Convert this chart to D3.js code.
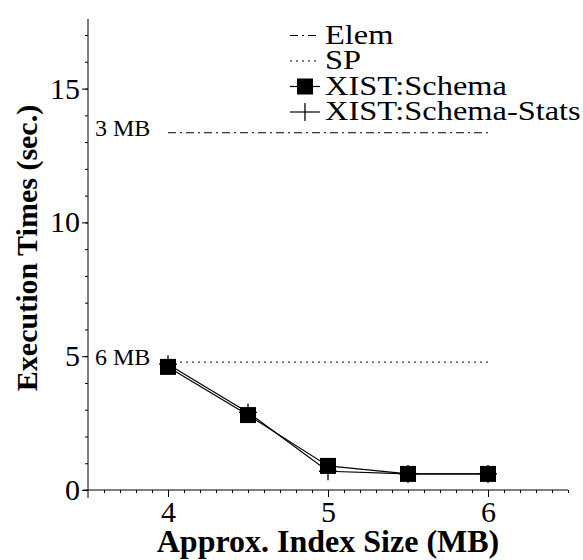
<!DOCTYPE html>
<html>
<head>
<meta charset="utf-8">
<script src="https://cdn.jsdelivr.net/npm/d3@7"></script>
<style>
  body { margin: 0; background: #fff; }
  svg { display: block; }
  text { font-family: "Liberation Serif", "Times New Roman", serif; fill: #000; }
</style>
</head>
<body>
<svg width="583" height="560"></svg>
<script>
// index size (MB) on the x axis
var sizes = [4, 4.5, 5, 5.5, 6];
// execution times (sec.)
var schemaTimes = [4.6, 2.8, 0.9, 0.6, 0.6];
var statsTimes = [4.7, 2.9, 0.7, 0.6, 0.6];

// flat reference lines
var refNames = ["Elem", "SP"];
var refLabels = ["3 MB", "6 MB"];
var refValues = [13.35, 4.78];

var xTicks = [4, 5, 6];
var yTicks = [0, 5, 10, 15];
var legendNames = ["Elem", "SP", "XIST:Schema", "XIST:Schema-Stats"];

var svg = d3.select("svg");

var x = d3.scaleLinear().domain([3.5, 6.5]).range([88, 568]),
    y = d3.scaleLinear().domain([0, 17.6]).range([490, 19]);

var dashes = { "Elem": "8,4,2,4", "SP": "2,4" };

// axes: minor ticks first, without labels
var xMinor = d3.range(36, 66).map(function(d) { return d / 10; }),
    yMinor = d3.range(1, 18);

function bare(g) {
    g.select(".domain").remove();
    g.selectAll("text").remove();
}

svg.append("g")
    .attr("transform", "translate(0," + y(0) + ")")
    .call(d3.axisBottom(x).tickValues(xMinor).tickSize(3))
    .call(bare);

svg.append("g")
    .attr("transform", "translate(0," + y(0) + ")")
    .call(d3.axisBottom(x).tickValues(xTicks).tickSize(7).tickPadding(4).tickFormat(d3.format("d")))
    .call(function(g) {
        g.select(".domain").remove();
        g.selectAll("text").style("font-size", "30px").attr("font-family", null);
    });

svg.append("g")
    .attr("transform", "translate(" + x(3.5) + ",0)")
    .call(d3.axisLeft(y).tickValues(yMinor).tickSize(3))
    .call(bare);

svg.append("g")
    .attr("transform", "translate(" + x(3.5) + ",0)")
    .call(d3.axisLeft(y).tickValues(yTicks).tickSize(6).tickPadding(2).tickFormat(d3.format("d")))
    .call(function(g) {
        g.select(".domain").remove();
        g.selectAll("text").style("font-size", "30px").attr("font-family", null);
    });

// axis lines, a bit past the corner like the original
svg.append("line")
    .attr("x1", x(3.5) - 5).attr("x2", x(6.5))
    .attr("y1", y(0)).attr("y2", y(0))
    .attr("stroke", "#000");
svg.append("line")
    .attr("x1", x(3.5)).attr("x2", x(3.5))
    .attr("y1", y(0) + 8).attr("y2", y(17.6))
    .attr("stroke", "#000");

// axis titles
svg.append("text")
    .attr("x", (x(3.5) + x(6.5)) / 2)
    .attr("y", 552)
    .attr("text-anchor", "middle")
    .style("font-size", "32px")
    .style("font-weight", "bold")
    .text("Approx. Index Size (MB)");

svg.append("text")
    .attr("transform", "translate(37," + 248 + ") rotate(-90)")
    .attr("text-anchor", "middle")
    .style("font-size", "30px")
    .style("font-weight", "bold")
    .text("Execution Times (sec.)");

// reference lines
refValues.forEach(function(v, i) {
    svg.append("line")
        .attr("x1", x(4)).attr("x2", x(6))
        .attr("y1", y(v)).attr("y2", y(v))
        .attr("stroke", "#000")
        .attr("stroke-width", 1)
        .attr("stroke-dasharray", dashes[refNames[i]]);
    svg.append("text")
        .attr("x", 95)
        .attr("y", y(v) + 3)
        .style("font-size", "24px")
        .text(refLabels[i]);
});

// data lines
var line = d3.line()
    .x(function(d) { return x(d[0]); })
    .y(function(d) { return y(d[1]); });

[statsTimes, schemaTimes].forEach(function(vals) {
    svg.append("path")
        .datum(d3.zip(sizes, vals))
        .attr("fill", "none")
        .attr("stroke", "#000")
        .attr("stroke-width", 1.2)
        .attr("d", line);
});

svg.append("g")
    .selectAll("path")
    .data(d3.zip(sizes, statsTimes))
    .enter()
        .append("path")
        .attr("transform", function(d) { return "translate(" + x(d[0]) + "," + y(d[1]) + ")"; })
        .attr("d", "M-9,0H9M0,-9V9")
        .attr("stroke", "#000")
        .attr("stroke-width", 1.3);

svg.append("g")
    .selectAll("rect")
    .data(d3.zip(sizes, schemaTimes))
    .enter()
        .append("rect")
        .attr("x", function(d) { return x(d[0]) - 8; })
        .attr("y", function(d) { return y(d[1]) - 8; })
        .attr("width", 16)
        .attr("height", 16)
        .attr("fill", "#000");

// legend
svg.append("g")
    .selectAll("g")
    .data(legendNames)
    .enter()
        .append("g")
        .attr("transform", function(d, i) { return "translate(290," + (35.5 + i * 25.5) + ")"; })
        .each(function(d) {
            var item = d3.select(this);
            item.append("line")
                .attr("x1", 0).attr("x2", 30)
                .attr("stroke", "#000")
                .attr("stroke-width", d.indexOf("XIST") == 0 ? 1.2 : 1)
                .attr("stroke-dasharray", dashes[d] || null);
            if (d == "XIST:Schema") {
                item.append("rect")
                    .attr("x", 7).attr("y", -8)
                    .attr("width", 16).attr("height", 16)
                    .attr("fill", "#000");
            }
            if (d == "XIST:Schema-Stats") {
                item.append("path")
                    .attr("d", "M15,-9V9")
                    .attr("stroke", "#000")
                    .attr("stroke-width", 1.3);
            }
            item.append("text")
                .attr("transform", "translate(35,8) scale(1.2,1)")
                .style("font-size", "27px")
                .text(d);
        });
</script>
</body>
</html>
